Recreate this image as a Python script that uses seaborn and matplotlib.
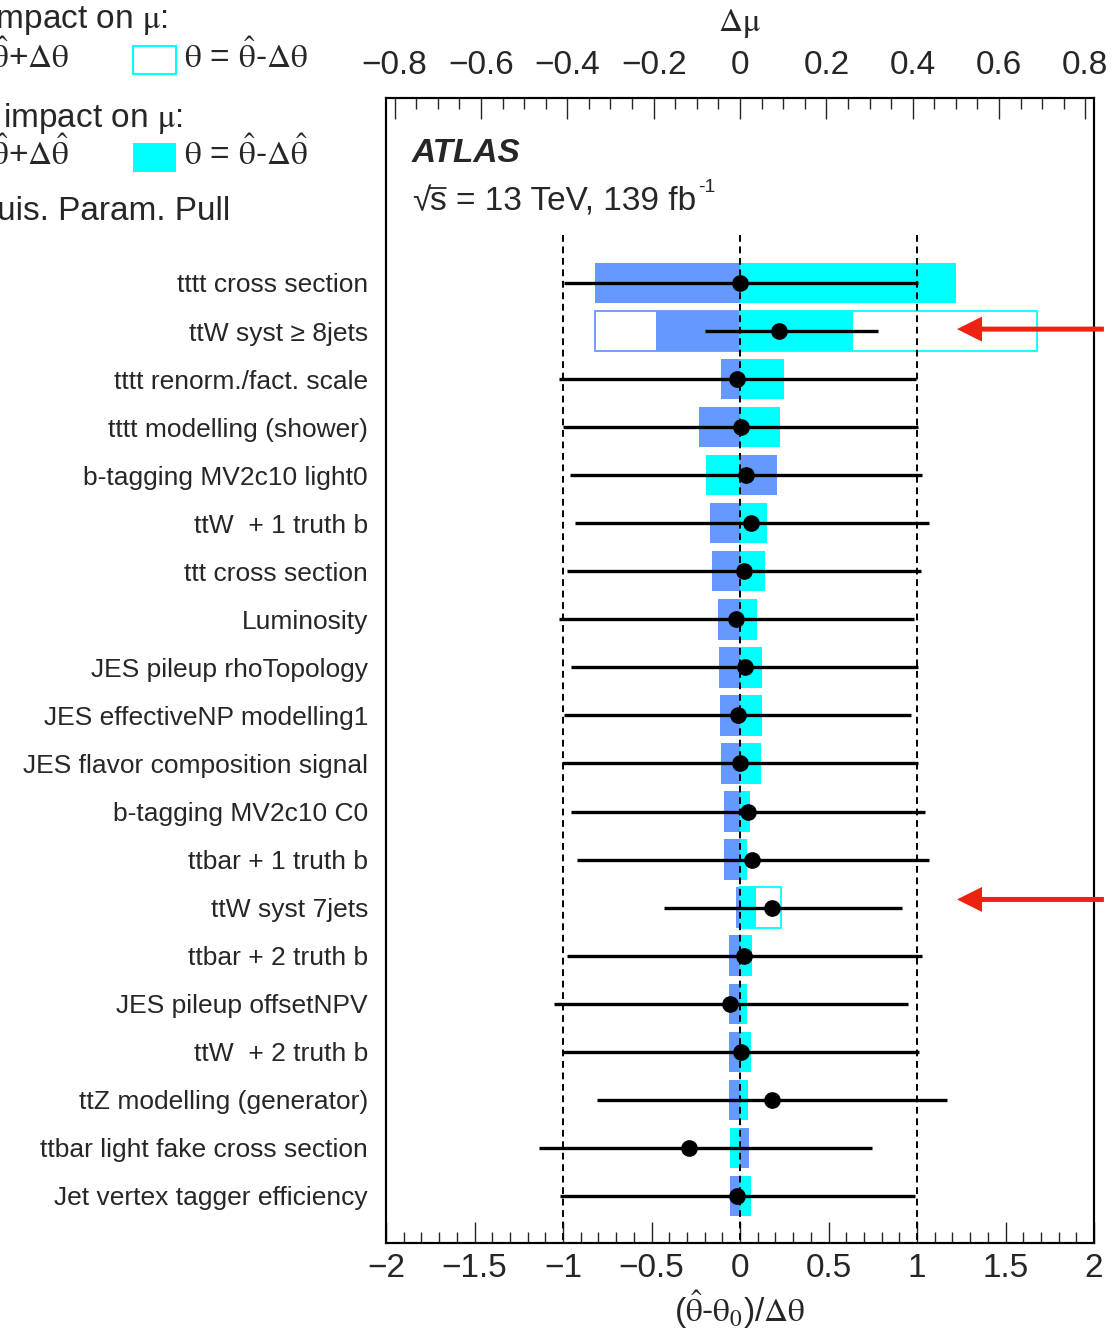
import numpy as np
import pandas as pd
import matplotlib
matplotlib.use("Agg")
import matplotlib.pyplot as plt
import seaborn as sns
from matplotlib.ticker import MultipleLocator, FixedLocator
from matplotlib.patches import Rectangle
from matplotlib.lines import Line2D

# ---------------- data ----------------
parameters = [
    "tttt cross section",
    "ttW syst \u2265 8jets",
    "tttt renorm./fact. scale",
    "tttt modelling (shower)",
    "b-tagging MV2c10 light0",
    "ttW  + 1 truth b",
    "ttt cross section",
    "Luminosity",
    "JES pileup rhoTopology",
    "JES effectiveNP modelling1",
    "JES flavor composition signal",
    "b-tagging MV2c10 C0",
    "ttbar + 1 truth b",
    "ttW syst 7jets",
    "ttbar + 2 truth b",
    "JES pileup offsetNPV",
    "ttW  + 2 truth b",
    "ttZ modelling (generator)",
    "ttbar light fake cross section",
    "Jet vertex tagger efficiency",
]
# post-fit impact on mu (Delta mu), theta = theta_hat + dtheta_hat (blue) / - (cyan)
impact_post_up = [-0.337, -0.195, -0.045, -0.094, 0.085, -0.069, -0.066, -0.050, -0.049, -0.046,
                  -0.045, -0.037, -0.037, -0.009, -0.026, -0.026, -0.025, -0.025, 0.022, -0.023]
impact_post_down = [0.501, 0.262, 0.103, 0.093, -0.078, 0.062, 0.057, 0.039, 0.052, 0.050,
                    0.048, 0.024, 0.017, 0.036, 0.028, 0.016, 0.026, 0.019, -0.024, 0.026]
# pre-fit impact (only shown where visible)
impact_pre_up = [np.nan, -0.337] + [np.nan] * 18
impact_pre_down = [np.nan, 0.688] + [np.nan] * 11 + [0.094] + [np.nan] * 6
# nuisance parameter pulls
pull_values = [0.000, 0.221, -0.017, 0.006, 0.036, 0.064, 0.025, -0.021, 0.030, -0.013,
               0.002, 0.043, 0.070, 0.181, 0.025, -0.055, 0.006, 0.181, -0.287, -0.017]
pull_err_lo = [0.993, 0.420, 1.005, 1.005, 0.997, 0.997, 1.005, 1.001, 0.982, 0.980,
               1.005, 0.999, 0.992, 0.610, 1.001, 0.997, 1.009, 0.991, 0.846, 1.001]
pull_err_hi = [1.005, 0.557, 1.012, 0.999, 0.993, 1.003, 0.999, 1.003, 0.977, 0.978,
               1.006, 1.003, 0.997, 0.735, 1.004, 1.003, 1.004, 0.988, 1.035, 1.003]
highlighted_rows = [1, 13]
arrow_offsets = [-0.04, -0.17]

top_ticks = [-0.8, -0.6, -0.4, -0.2, 0.0, 0.2, 0.4, 0.6, 0.8]
top_tick_labels = ["\u22120.8", "\u22120.6", "\u22120.4", "\u22120.2", "0", "0.2", "0.4", "0.6", "0.8"]
bottom_ticks = [-2, -1.5, -1, -0.5, 0, 0.5, 1, 1.5, 2]
bottom_tick_labels = ["\u22122", "\u22121.5", "\u22121", "\u22120.5", "0", "0.5", "1", "1.5", "2"]

# ---------------- style ----------------
sns.set_style("ticks")
plt.rcParams["font.family"] = ["Liberation Sans", "DejaVu Sans"]
plt.rcParams["mathtext.fontset"] = "stix"
plt.rcParams["mathtext.default"] = "rm"
plt.rcParams["axes.unicode_minus"] = True

BLUE = "#6699ff"
CYAN = "#00ffff"
RED = "#ee2211"
W, H = 1116, 1330

def fx(x):
    return x / W

def fy(y):
    return 1 - y / H

fig = plt.figure(figsize=(W / 100, H / 100), dpi=100)
ax = fig.add_axes([fx(386), fy(1243), (1094 - 386) / W, (1243 - 98) / H])
ax2 = ax.twiny()

n = len(parameters)
ypos = np.arange(n)

df = pd.DataFrame({"parameter": parameters, "up": impact_post_up, "down": impact_post_down})
sns.barplot(data=df, x="up", y="parameter", orient="h", color=BLUE, saturation=1,
            width=0.84, errorbar=None, linewidth=0, ax=ax)
sns.barplot(data=df, x="down", y="parameter", orient="h", color=CYAN, saturation=1,
            width=0.84, errorbar=None, linewidth=0, ax=ax)

pre_up = np.array(impact_pre_up)
pre_dn = np.array(impact_pre_down)
m = ~np.isnan(pre_up)
ax.barh(ypos[m], pre_up[m], height=0.84, fill=False, edgecolor=BLUE, lw=1.3, zorder=3)
m = ~np.isnan(pre_dn)
ax.barh(ypos[m], pre_dn[m], height=0.84, fill=False, edgecolor=CYAN, lw=1.3, zorder=3)

mu_lim = 0.82
ax.set_xlim(-mu_lim, mu_lim)
ax2.set_xlim(-2, 2)
ax.set_ylim(19.98, -3.85)

# dashed reference lines
ax2.vlines([-1, 0, 1], -1.0, 19.98, colors="black", linestyles=(0, (3.5, 2.4)), lw=1.4, zorder=2)

# pulls
ax2.errorbar(pull_values, ypos, xerr=[pull_err_lo, pull_err_hi], fmt="o", color="black",
             ms=11, elinewidth=2.4, capsize=0, zorder=5)

# axes styling
ax.set_xlabel("")
ax.set_ylabel("")
ax.xaxis.set_ticks_position("top")
ax.xaxis.set_label_position("top")
ax2.xaxis.set_ticks_position("bottom")
ax2.xaxis.set_label_position("bottom")

tick_font = {"family": ["Liberation Sans"], "size": 24}
ax.xaxis.set_major_locator(FixedLocator(top_ticks))
ax.set_xticklabels(top_tick_labels, fontdict=tick_font)
ax.xaxis.set_minor_locator(MultipleLocator(0.05))
ax2.xaxis.set_major_locator(FixedLocator(bottom_ticks))
ax2.set_xticklabels(bottom_tick_labels, fontdict=tick_font)
ax2.xaxis.set_minor_locator(MultipleLocator(0.1))

ax.tick_params(axis="x", which="major", direction="in", length=15, width=1.0, pad=12,
               top=True, bottom=False, labeltop=True, labelbottom=False)
ax.tick_params(axis="x", which="minor", direction="in", length=8, width=1.0,
               top=True, bottom=False)
ax2.tick_params(axis="x", which="major", direction="in", length=15, width=1.0, pad=7,
                top=False, bottom=True, labeltop=False, labelbottom=True)
ax2.tick_params(axis="x", which="minor", direction="in", length=8, width=1.0,
                top=False, bottom=True)
ax.tick_params(axis="y", length=0, pad=13, labelsize=19)
ax.set_yticks(ypos)
ax.set_yticklabels(parameters, fontsize=19)
for a in (ax, ax2):
    for s in a.spines.values():
        s.set_linewidth(1.5)
        s.set_color("black")

ax.set_xlabel(r"$\Delta\mu$", fontsize=24, labelpad=14)
ax2.set_xlabel("(" + r"$\hat{\theta}$" + "-" + r"$\theta_{0}$" + ")/" + r"$\Delta\theta$",
               fontsize=24, labelpad=3)

# ATLAS label
fig.text(fx(412), fy(162), "ATLAS", fontsize=24, fontweight="bold", fontstyle="italic",
         ha="left", va="baseline")
base_y = 210
t_root = fig.text(fx(412), fy(base_y), "\u221a", fontsize=24, ha="left", va="baseline")
fig.canvas.draw()
rend = fig.canvas.get_renderer()
bb_root = t_root.get_window_extent(rend)
t_s = fig.text(bb_root.x1 / W, fy(base_y), "s", fontsize=24, ha="left", va="baseline")
fig.canvas.draw()
bb_s = t_s.get_window_extent(rend)
t_s.set_text("s = 13 TeV, 139 fb")
fig.canvas.draw()
bb_l = t_s.get_window_extent(rend)
# overline of the square root over "s"
over_y = bb_root.y1 - 1.5
fig.lines.append(Line2D([bb_root.x1 - 1.5, bb_s.x1 - 1.5], [over_y, over_y],
                        transform=None, color="black", lw=1.1))
fig.text((bb_l.x1 + 2) / W, fy(base_y - 18), "-1", fontsize=14, ha="left", va="baseline")

# arrows to highlighted rows
for r, off in zip(highlighted_rows, arrow_offsets):
    ax2.annotate("", xy=(1.226, r + off), xytext=(2.056, r + off),
                 arrowprops=dict(arrowstyle="simple,head_length=18,head_width=18,tail_width=3.6",
                                 mutation_scale=1, color=RED, lw=0, shrinkA=0, shrinkB=0),
                 annotation_clip=False)

# legend (partially cut off at the left edge)
LFS = 24
fig.text(fx(168), fy(28), r"Pre-fit impact on $\mu$:", fontsize=LFS, ha="right", va="baseline")
fig.text(fx(69), fy(68), r"$\theta$ = $\hat{\theta}$+$\Delta\theta$", fontsize=LFS,
         ha="right", va="baseline")
fig.patches.append(Rectangle((fx(133), fy(74)), fx(43), 28 / H, transform=fig.transFigure,
                             fill=False, edgecolor=CYAN, lw=1.5))
fig.text(fx(184), fy(68), r"$\theta$ = $\hat{\theta}$-$\Delta\theta$", fontsize=LFS,
         ha="left", va="baseline")
fig.text(fx(183), fy(127), r"Post-fit impact on $\mu$:", fontsize=LFS, ha="right", va="baseline")
fig.text(fx(69), fy(165), r"$\theta$ = $\hat{\theta}$+$\Delta\hat{\theta}$", fontsize=LFS,
         ha="right", va="baseline")
fig.patches.append(Rectangle((fx(133), fy(172)), fx(43), 29 / H, transform=fig.transFigure,
                             facecolor=CYAN, edgecolor="none"))
fig.text(fx(184), fy(165), r"$\theta$ = $\hat{\theta}$-$\Delta\hat{\theta}$", fontsize=LFS,
         ha="left", va="baseline")
fig.text(fx(230), fy(220), "Nuis. Param. Pull", fontsize=LFS, ha="right", va="baseline")

fig.savefig("out.png", dpi=100)
